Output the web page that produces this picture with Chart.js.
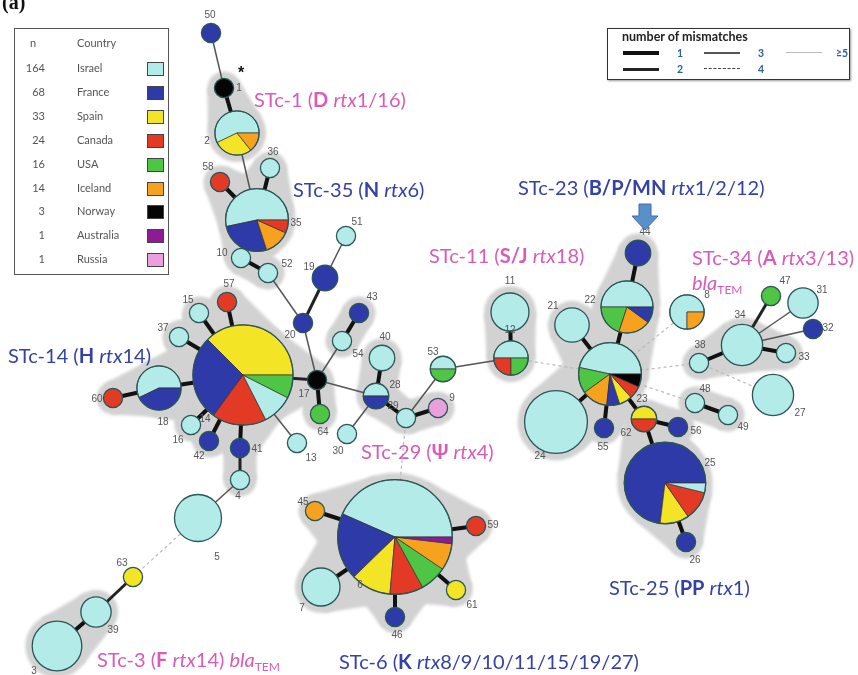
<!DOCTYPE html>
<html>
<head>
<meta charset="utf-8">
<script src="https://cdn.jsdelivr.net/npm/chart.js@4.4.0/dist/chart.umd.min.js"></script>
<style>
  body { margin: 0; background: #fff; font-family: Lato, "Open Sans", sans-serif; }
  #wrap { position: relative; width: 858px; height: 675px; overflow: hidden; }
  #net { position: absolute; left: 0; top: 0; }
  .tag { position: absolute; top: -9px; left: 2px; font: bold 20px "Liberation Serif", serif; color: #111; }
  .stc { position: absolute; font-size: 20px; line-height: 22px; white-space: nowrap; }
  .stc sub { font-size: 12px; vertical-align: -4px; line-height: 0; }
  .pink { color: #d65cb6; }
  .blue { color: #3442a6; }
  .box { position: absolute; border: 1px solid #555; background: #fff; }
  .box1 { left: 14px; top: 28px; width: 153px; height: 245px; }
  .box1 div { position: absolute; font-size: 11px; color: #555; line-height: 14px; }
  .box1 .sw { width: 15px; height: 12px; border: 1px solid #444; }
  .box2 { left: 607px; top: 28px; width: 241px; height: 50px; border: 1.5px solid #333; box-shadow: 1px 1px 2px #999; }
  .box2 div { position: absolute; }
  .box2 .ttl { left: 14px; top: 0px; font-size: 12.5px; font-weight: bold; color: #222; }
  .box2 .key { font-size: 10.5px; font-weight: bold; color: #2f5d9a; line-height: 12px; }
</style>
</head>
<body>
<div id="wrap">
  <canvas id="net" width="858" height="675"></canvas>
  <div class="tag">(a)</div>
  <div class="box box1" id="legendCountry"></div>
  <div class="box box2" id="legendMismatch"><div class="ttl">number of mismatches</div></div>
</div>
<script>
// countries in legend order, with the number of isolates of each
const countries = ['Israel', 'France', 'Spain', 'Canada', 'USA', 'Iceland', 'Norway', 'Australia', 'Russia'];
const countryTotals = [164, 68, 33, 24, 16, 14, 3, 1, 1];
const countryColors = ['#b3ebe8', '#2e3aa8', '#f3e526', '#e33a26', '#4fc545', '#f6a21e', '#050505', '#8c1b94', '#eaa0dd'];

// sequence types (nodes) and their layout coordinates
const nodeIds = [50, 1, 2, 36, 58, 35, 10, 52,
                 51, 19, 43, 20, 17, 64, 13, 54,
                 40, 28, 29, 9, 30, 53, 14, 57,
                 15, 37, 18, 60, 16, 42, 41, 4,
                 5, 63, 39, 3, 6, 45, 59, 61,
                 46, 7, 11, 12, 44, 22, 21, 24,
                 23, 55, 62, 56, 25, 26, 8, 34,
                 47, 31, 32, 33, 38, 48, 49, 27];
const nodeX = [211, 224, 237, 270, 220, 257, 241, 268,
               346, 325, 359, 303, 317, 320, 297, 342,
               382, 376, 406, 438, 347, 443, 243, 227,
               199, 179, 159, 113, 191, 209, 240, 240,
               198, 133, 96, 57, 395, 315, 476, 456,
               395, 321, 510, 511, 638, 627, 572, 556,
               610, 604, 644, 678, 665, 686, 687, 742,
               771, 803, 813, 786, 699, 695, 728, 773];
const nodeY = [33, 88, 133, 168, 182, 220, 258, 273,
               236, 278, 313, 323, 380, 414, 443, 341,
               358, 396, 418, 408, 434, 369, 375, 302,
               313, 337, 388, 398, 425, 441, 448, 480,
               518, 577, 612, 646, 537, 511, 526, 590,
               617, 587, 312, 358, 253, 307, 325, 422,
               374, 428, 419, 427, 483, 542, 312, 345,
               296, 303, 329, 353, 363, 403, 415, 395];

// isolates per node for each country (same order as nodeIds)
const israel    = [0, 0, 4, 1, 0, 8, 1, 1,   1, 0, 0, 0, 0, 0, 1, 1,   2, 1, 1, 0, 1, 1, 4, 0,   1, 1, 4, 0, 1, 0, 0, 1,
                   8, 0, 3, 9, 23, 0, 0, 0,  0, 5, 5, 2, 0, 5, 4, 15,  7, 0, 0, 0, 1, 0, 3, 6,   0, 3, 0, 1, 1, 1, 1, 6];
const france    = [1, 0, 0, 0, 0, 4, 0, 0,   0, 2, 1, 1, 0, 0, 0, 0,   0, 1, 0, 0, 0, 0, 11, 0,  0, 0, 3, 0, 0, 1, 1, 0,
                   0, 0, 0, 0, 10, 0, 0, 0,  1, 0, 0, 0, 2, 1, 0, 0,   1, 1, 0, 1, 19, 1, 0, 0,  0, 0, 1, 0, 0, 0, 0, 0];
const spain     = [0, 0, 2, 0, 0, 0, 0, 0,   0, 0, 0, 0, 0, 0, 0, 0,   0, 0, 0, 0, 0, 0, 15, 0,  0, 0, 0, 0, 0, 0, 0, 0,
                   0, 1, 0, 0, 6, 0, 0, 1,   0, 0, 0, 0, 0, 0, 0, 0,   1, 0, 1, 0, 3, 0, 0, 0,   0, 0, 0, 0, 0, 0, 0, 0];
const canada    = [0, 0, 0, 0, 1, 1, 0, 0,   0, 0, 0, 0, 0, 0, 0, 0,   0, 0, 0, 0, 0, 0, 7, 1,   0, 0, 0, 1, 0, 0, 0, 0,
                   0, 0, 0, 0, 5, 0, 1, 0,   0, 0, 0, 1, 0, 0, 0, 0,   1, 0, 1, 0, 3, 0, 0, 0,   0, 0, 0, 0, 0, 0, 0, 0];
const usa       = [0, 0, 0, 0, 0, 0, 0, 0,   0, 0, 0, 0, 0, 1, 0, 0,   0, 0, 0, 0, 0, 1, 3, 0,   0, 0, 0, 0, 0, 0, 0, 0,
                   0, 0, 0, 0, 4, 0, 0, 0,   0, 0, 0, 1, 0, 2, 0, 0,   2, 0, 0, 0, 0, 0, 0, 0,   1, 0, 0, 0, 0, 0, 0, 0];
const iceland   = [0, 0, 1, 0, 0, 2, 0, 0,   0, 0, 0, 0, 0, 0, 0, 0,   0, 0, 0, 0, 0, 0, 0, 0,   0, 0, 0, 0, 0, 0, 0, 0,
                   0, 0, 0, 0, 4, 1, 0, 0,   0, 0, 0, 0, 0, 2, 0, 0,   2, 0, 0, 0, 0, 0, 1, 0,   0, 0, 0, 0, 0, 0, 0, 0];
const norway    = [0, 1, 0, 0, 0, 0, 0, 0,   0, 0, 0, 0, 1, 0, 0, 0,   0, 0, 0, 0, 0, 0, 0, 0,   0, 0, 0, 0, 0, 0, 0, 0,
                   0, 0, 0, 0, 0, 0, 0, 0,   0, 0, 0, 0, 0, 0, 0, 0,   1, 0, 0, 0, 0, 0, 0, 0,   0, 0, 0, 0, 0, 0, 0, 0];
const australia = [0, 0, 0, 0, 0, 0, 0, 0,   0, 0, 0, 0, 0, 0, 0, 0,   0, 0, 0, 0, 0, 0, 0, 0,   0, 0, 0, 0, 0, 0, 0, 0,
                   0, 0, 0, 0, 1, 0, 0, 0,   0, 0, 0, 0, 0, 0, 0, 0,   0, 0, 0, 0, 0, 0, 0, 0,   0, 0, 0, 0, 0, 0, 0, 0];
const russia    = [0, 0, 0, 0, 0, 0, 0, 0,   0, 0, 0, 0, 0, 0, 0, 0,   0, 0, 0, 1, 0, 0, 0, 0,   0, 0, 0, 0, 0, 0, 0, 0,
                   0, 0, 0, 0, 0, 0, 0, 0,   0, 0, 0, 0, 0, 0, 0, 0,   0, 0, 0, 0, 0, 0, 0, 0,   0, 0, 0, 0, 0, 0, 0, 0];
const countrySeries = [israel, france, spain, canada, usa, iceland, norway, australia, russia];

// links: [from, to, number of mismatches] (5 means >=5)
const edges = [
  [50, 1, 3], [1, 2, 1], [2, 35, 3], [35, 58, 1], [35, 36, 1], [35, 10, 1], [10, 52, 1], [52, 20, 3],
  [20, 19, 2], [19, 51, 3], [20, 17, 3], [17, 14, 2], [17, 64, 1], [17, 54, 3], [54, 43, 1],
  [17, 28, 3], [28, 40, 1], [28, 29, 1], [28, 30, 3], [29, 9, 1], [29, 53, 3], [53, 12, 3],
  [12, 11, 1], [12, 23, 5], [29, 6, 5],
  [14, 57, 1], [14, 15, 1], [14, 37, 1], [14, 18, 1], [18, 60, 1], [14, 16, 1], [14, 42, 1],
  [14, 41, 1], [14, 13, 3], [41, 4, 2], [4, 5, 3], [5, 63, 5], [63, 39, 2], [39, 3, 1],
  [6, 45, 1], [6, 59, 1], [6, 61, 1], [6, 46, 1], [6, 7, 1],
  [23, 22, 1], [22, 44, 1], [23, 21, 1], [23, 24, 1], [23, 55, 1], [23, 62, 1],
  [62, 56, 1], [62, 25, 1], [25, 26, 1],
  [23, 8, 5], [23, 38, 5], [38, 34, 1], [34, 33, 1], [34, 47, 2], [34, 31, 3], [34, 32, 3],
  [23, 48, 5], [48, 49, 1], [38, 27, 5]
];

// clonal complexes shaded in grey
const clusters = [
  [1, 2], [35, 58, 36, 10, 52], [14, 57, 15, 37, 18, 60, 16, 42, 41, 4, 17, 64], [54, 43],
  [28, 40, 29, 9], [6, 45, 59, 61, 46, 7], [39, 3], [11, 12],
  [23, 22, 44, 21, 24, 55], [62, 56, 25, 26], [34, 38, 33], [48, 49]
];

// node number label positions
const labelXY = {
  50: [210, 15], 1: [239, 88], 2: [207, 141], 36: [273, 152], 58: [208, 167], 35: [296, 223],
  10: [222, 253], 52: [287, 264], 51: [357, 222], 19: [309, 267], 43: [372, 297], 20: [290, 335],
  17: [304, 394], 64: [323, 432], 13: [311, 458], 54: [358, 354], 40: [385, 337], 28: [395, 385],
  29: [393, 406], 9: [452, 398], 30: [338, 451], 53: [433, 352], 14: [205, 419], 57: [229, 284],
  15: [188, 300], 37: [163, 328], 18: [163, 422], 60: [97, 399], 16: [178, 440], 42: [199, 456],
  41: [257, 449], 4: [238, 496], 5: [217, 557], 63: [122, 563], 39: [113, 630], 3: [34, 671],
  6: [360, 585], 45: [303, 502], 59: [493, 525], 61: [472, 605], 46: [397, 635], 7: [302, 608],
  11: [510, 281], 12: [510, 330], 44: [645, 232], 22: [590, 300], 21: [553, 306], 24: [540, 456],
  23: [642, 399], 55: [603, 447], 62: [626, 433], 56: [696, 431], 25: [710, 463], 26: [695, 560],
  8: [707, 295], 34: [740, 315], 47: [785, 281], 31: [822, 290], 32: [828, 328], 33: [804, 357],
  38: [700, 345], 48: [705, 389], 49: [743, 427], 27: [800, 413]
};

const edgeStyle = {
  1: { w: 4, c: '#111', d: [] },
  2: { w: 3, c: '#222', d: [] },
  3: { w: 1.5, c: '#555', d: [] },
  4: { w: 1.5, c: '#444', d: [4, 3] },
  5: { w: 1.2, c: '#b8b8b8', d: [3, 3] }
};

const indexOf = {};
nodeIds.forEach((id, i) => { indexOf[id] = i; });
const nodeCounts = i => countrySeries.map(s => s[i]);
const nodeTotal = i => countrySeries.reduce((a, s) => a + s[i], 0);
const nodeRadius = i => 2 + 7.6 * Math.sqrt(nodeTotal(i));

function drawPie(ctx, cx, cy, r, counts) {
  const total = counts.reduce((a, b) => a + b, 0);
  const parts = counts.map((n, k) => ({ n, k })).filter(p => p.n > 0)
    .sort((a, b) => b.n - a.n || a.k - b.k);
  let a0 = 0;
  parts.forEach(p => {
    const a1 = a0 + p.n / total * Math.PI * 2;
    ctx.beginPath();
    if (parts.length > 1) ctx.moveTo(cx, cy);
    ctx.arc(cx, cy, r, -a0, -a1, true);
    ctx.closePath();
    ctx.fillStyle = countryColors[p.k];
    ctx.fill();
    if (parts.length > 1) {
      ctx.strokeStyle = '#333';
      ctx.lineWidth = 0.7;
      ctx.stroke();
    }
    a0 = a1;
  });
  ctx.beginPath();
  ctx.arc(cx, cy, r, 0, Math.PI * 2);
  ctx.strokeStyle = '#2a5656';
  ctx.lineWidth = 1.3;
  ctx.stroke();
}

function fillHull(ctx, x1, y1, r1, x2, y2, r2) {
  const dx = x2 - x1, dy = y2 - y1;
  const d = Math.hypot(dx, dy);
  if (d <= Math.abs(r1 - r2)) return;
  const t = Math.atan2(dy, dx);
  const f = Math.acos((r1 - r2) / d);
  ctx.beginPath();
  ctx.moveTo(x1 + r1 * Math.cos(t + f), y1 + r1 * Math.sin(t + f));
  ctx.lineTo(x2 + r2 * Math.cos(t + f), y2 + r2 * Math.sin(t + f));
  ctx.lineTo(x2 + r2 * Math.cos(t - f), y2 + r2 * Math.sin(t - f));
  ctx.lineTo(x1 + r1 * Math.cos(t - f), y1 + r1 * Math.sin(t - f));
  ctx.closePath();
  ctx.fill();
}

const networkPlugin = {
  id: 'network',
  beforeDatasetsDraw(chart) {
    const { ctx, scales: { x, y } } = chart;
    const px = id => x.getPixelForValue(nodeX[indexOf[id]]);
    const py = id => y.getPixelForValue(nodeY[indexOf[id]]);
    const pr = id => nodeRadius(indexOf[id]) + 7;
    ctx.save();
    ctx.fillStyle = '#d2d2d2';
    ctx.filter = 'blur(1.5px)';
    clusters.forEach(members => {
      const set = new Set(members);
      members.forEach(id => {
        ctx.beginPath();
        ctx.arc(px(id), py(id), pr(id), 0, Math.PI * 2);
        ctx.fill();
      });
      edges.filter(e => set.has(e[0]) && set.has(e[1])).forEach(e => {
        fillHull(ctx, px(e[0]), py(e[0]), pr(e[0]), px(e[1]), py(e[1]), pr(e[1]));
      });
    });
    ctx.restore();
  },
  afterDatasetsDraw(chart) {
    const { ctx, scales: { x, y } } = chart;
    const meta = chart.getDatasetMeta(chart.data.datasets.length - 1);
    ctx.save();
    meta.data.forEach((pt, i) => drawPie(ctx, pt.x, pt.y, nodeRadius(i), nodeCounts(i)));

    ctx.fillStyle = '#555';
    ctx.font = '10px "Liberation Sans", Arial, sans-serif';
    ctx.textAlign = 'center';
    ctx.textBaseline = 'middle';
    nodeIds.forEach(id => {
      const p = labelXY[id];
      ctx.fillText(String(id), x.getPixelForValue(p[0]), y.getPixelForValue(p[1]));
    });

    // asterisk next to ST1
    ctx.fillStyle = '#111';
    ctx.font = 'bold 16px "Liberation Sans", Arial, sans-serif';
    ctx.fillText('*', x.getPixelForValue(241), y.getPixelForValue(74));

    // arrow pointing at ST44
    const ax = x.getPixelForValue(nodeX[indexOf[44]]) + 7;
    const ay = y.getPixelForValue(230);
    ctx.beginPath();
    ctx.moveTo(ax - 6, ay - 26);
    ctx.lineTo(ax + 6, ay - 26);
    ctx.lineTo(ax + 6, ay - 14);
    ctx.lineTo(ax + 13, ay - 14);
    ctx.lineTo(ax, ay);
    ctx.lineTo(ax - 13, ay - 14);
    ctx.lineTo(ax - 6, ay - 14);
    ctx.closePath();
    ctx.fillStyle = '#5a8fca';
    ctx.fill();
    ctx.strokeStyle = '#3d6ea8';
    ctx.lineWidth = 1;
    ctx.stroke();
    ctx.restore();
  }
};

const edgeDatasets = edges.map(([a, b, m]) => {
  const s = edgeStyle[m];
  return {
    type: 'line',
    data: [
      { x: nodeX[indexOf[a]], y: nodeY[indexOf[a]] },
      { x: nodeX[indexOf[b]], y: nodeY[indexOf[b]] }
    ],
    borderColor: s.c,
    borderWidth: s.w,
    borderDash: s.d,
    borderCapStyle: 'butt',
    pointRadius: 0,
    showLine: true,
    order: 2
  };
});

const nodeDataset = {
  type: 'scatter',
  data: nodeIds.map((id, i) => ({ x: nodeX[i], y: nodeY[i] })),
  pointRadius: nodeIds.map((id, i) => nodeRadius(i)),
  pointBackgroundColor: 'rgba(0,0,0,0)',
  pointBorderWidth: 0,
  order: 1
};

new Chart(document.getElementById('net'), {
  type: 'scatter',
  data: { datasets: [...edgeDatasets, nodeDataset] },
  options: {
    responsive: false,
    animation: false,
    events: [],
    layout: { padding: 0, autoPadding: false },
    plugins: { legend: { display: false }, tooltip: { enabled: false } },
    scales: {
      x: { type: 'linear', min: 0, max: 858, display: false },
      y: { type: 'linear', min: 0, max: 675, reverse: true, display: false }
    }
  },
  plugins: [networkPlugin]
});

// cluster labels
const clusterLabels = [
  ['pink', 254, 99, 'STc-1 (<b>D</b> <i>rtx</i>1/16)'],
  ['blue', 293, 189, 'STc-35 (<b>N</b> <i>rtx</i>6)'],
  ['blue', 8, 355, 'STc-14 (<b>H</b> <i>rtx</i>14)'],
  ['pink', 361, 451, 'STc-29 (<b>Ψ</b> <i>rtx</i>4)'],
  ['blue', 339, 661, 'STc-6 (<b>K</b> <i>rtx</i>8/9/10/11/15/19/27)'],
  ['pink', 97, 659, 'STc-3 (<b>F</b> <i>rtx</i>14) <i>bla</i><sub>TEM</sub>'],
  ['pink', 429, 255, 'STc-11 (<b>S/J</b> <i>rtx</i>18)'],
  ['blue', 518, 187, 'STc-23 (<b>B/P/MN</b> <i>rtx</i>1/2/12)'],
  ['pink', 692, 257, 'STc-34 (<b>A</b> <i>rtx</i>3/13)'],
  ['pink', 692, 282, '<i>bla</i><sub>TEM</sub>'],
  ['blue', 609, 587, 'STc-25 (<b>PP</b> <i>rtx</i>1)']
];
const wrap = document.getElementById('wrap');
clusterLabels.forEach(([cls, lx, ly, html]) => {
  const d = document.createElement('div');
  d.className = 'stc ' + cls;
  d.style.left = lx + 'px';
  d.style.top = (ly - 11) + 'px';
  d.innerHTML = html;
  wrap.appendChild(d);
});

// country legend
const lc = document.getElementById('legendCountry');
function put(parent, html, css) {
  const d = document.createElement('div');
  d.innerHTML = html;
  Object.assign(d.style, css);
  parent.appendChild(d);
  return d;
}
put(lc, 'n', { left: '15px', top: '7px' });
put(lc, 'Country', { left: '62px', top: '7px' });
countries.forEach((name, k) => {
  const top = 32 + k * 23.9;
  put(lc, String(countryTotals[k]), { left: '0px', width: '30px', textAlign: 'right', top: top + 'px' });
  put(lc, name, { left: '62px', top: top + 'px' });
  const sw = put(lc, '', { left: '132px', top: (top + 1) + 'px', background: countryColors[k] });
  sw.className = 'sw';
});

// mismatch legend
const lm = document.getElementById('legendMismatch');
const mismatchKeys = [[1, '1', 15, 24], [2, '2', 15, 40], [3, '3', 96, 24], [4, '4', 96, 40], [5, '≥5', 178, 24]];
mismatchKeys.forEach(([m, txt, lx, ly]) => {
  const s = edgeStyle[m];
  const line = { left: lx + 'px', width: '36px', top: (ly - s.w / 2) + 'px' };
  if (m === 5) {
    Object.assign(line, { height: '0px', borderTop: '1.2px solid #bbb' });
  } else if (s.d.length) {
    Object.assign(line, { height: '0px', borderTop: '1.5px dashed #444' });
  } else {
    Object.assign(line, { height: s.w + 'px', background: s.c });
  }
  put(lm, '', line);
  const k = put(lm, txt, { left: (lx + (m === 5 ? 50 : 54)) + 'px', top: (ly - 6) + 'px' });
  k.className = 'key';
});
</script>
</body>
</html>
